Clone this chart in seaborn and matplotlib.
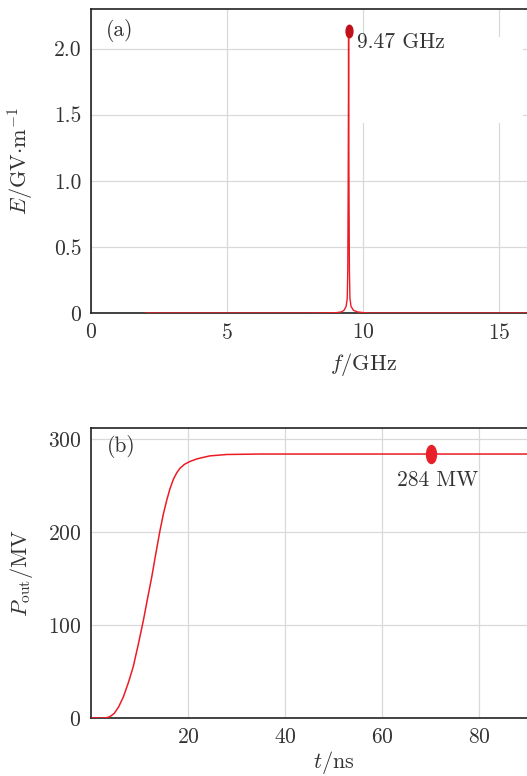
import numpy as np
import pandas as pd
import matplotlib
matplotlib.use("Agg")
import matplotlib.pyplot as plt
import seaborn as sns
from matplotlib.patches import Rectangle
from matplotlib.path import Path
from matplotlib.transforms import Affine2D

# ---- data ----
freq_ghz = [2.0, 4.0, 6.0, 8.0, 9.0, 9.2, 9.3, 9.38, 9.42, 9.44, 9.455, 9.465, 9.47,
            9.475, 9.485, 9.50, 9.52, 9.56, 9.65, 9.8, 10.0, 10.2, 12.0, 14.0, 16.0, 18.0, 20.0]
field_gv = [0.0, 0.0, 0.0, 0.0, 0.002, 0.008, 0.02, 0.05, 0.11, 0.32, 0.94, 1.60, 2.13,
            1.60, 0.94, 0.32, 0.11, 0.05, 0.02, 0.008, 0.003, 0.0, 0.0, 0.0, 0.0, 0.0, 0.0]

time_ns = [0.0, 3.0, 3.9, 4.8, 5.7, 6.7, 7.7, 8.7, 9.7, 10.8, 11.6, 12.5, 13.3, 14.2, 14.9,
           15.6, 16.3, 17.0, 17.7, 18.4, 19.3, 20.4, 22.0, 24.5, 28.0, 35.0, 50.0, 70.0, 100.0]
power_mw = [0.0, 0.0, 1.4, 5.0, 12.0, 23.0, 38.0, 55.0, 78.0, 105.0, 127.0, 151.0, 175.0, 201.0, 219.0,
            234.0, 247.0, 257.0, 264.0, 269.0, 273.0, 276.0, 279.0, 282.0, 283.5, 284.0, 284.0, 284.0, 284.0]

peak_f, peak_e = 9.47, 2.13
flat_t, flat_p = 70.2, 284.0

# ---- style ----
sns.set_theme(style="whitegrid")
plt.rcParams["font.family"] = ["cmr10", "DejaVu Serif"]
plt.rcParams["mathtext.fontset"] = "cm"
plt.rcParams["axes.unicode_minus"] = False
plt.rcParams["axes.formatter.use_mathtext"] = True

txt = "#333333"
red = "#ec1c24"
grid_c = "#d9d9d9"
fs = 15.5

fig = plt.figure(figsize=(5.27, 7.76), dpi=100)
W, H = 527, 776

def place(l, t, w, h):
    return fig.add_axes([l / W, 1 - (t + h) / H, w / W, h / H])

ax1 = place(91, 9, 20 * 27.2, 304)
ax2 = place(91, 428, 100 * 4.85, 290)

for ax in (ax1, ax2):
    ax.set_facecolor("white")
    ax.grid(True, color=grid_c, linewidth=0.9)
    ax.set_axisbelow(True)
    for s in ("left", "bottom", "top"):
        ax.spines[s].set_visible(True)
        ax.spines[s].set_color("#222222")
        ax.spines[s].set_linewidth(1.2)
    ax.spines["right"].set_visible(False)
    ax.tick_params(length=0, labelsize=fs, colors=txt, pad=7)

# ---- panel (a) ----
df1 = pd.DataFrame({"f": freq_ghz, "E": field_gv})
sns.lineplot(data=df1, x="f", y="E", ax=ax1, color=red, linewidth=1.0, zorder=3)
ax1.set_xlim(0, 20)
ax1.set_ylim(0, 2.30)
ax1.set_xticks([0, 5, 10, 15])
ax1.set_yticks([0, 0.5, 1.0, 1.5, 2.0])
ax1.set_yticklabels(["0", "0.5", "1.0", "1.5", "2.0"])
ax1.add_patch(Rectangle((9.52, 1.44), 6.35, 0.65, facecolor="white", edgecolor="none", zorder=1))
ellipse = Path.unit_circle().transformed(Affine2D().scale(0.55, 1.0))
ax1.plot([peak_f], [peak_e], marker=ellipse, markersize=9, color="#c0111a", zorder=4)
ax1.text(9.78, 2.05, "9.47 GHz", fontsize=fs, color=txt, va="center", ha="left", zorder=5)
ax1.text(0.55, 2.14, "(a)", fontsize=fs, color=txt, va="center", ha="left")
ax1.set_xlabel(r"$f/\mathrm{GHz}$", fontsize=fs + 0.5, color=txt, labelpad=6)
ax1.set_ylabel(r"$E/\mathrm{GV{\cdot}m^{-1}}$", fontsize=fs + 0.5, color=txt, labelpad=13)

# ---- panel (b) ----
df2 = pd.DataFrame({"t": time_ns, "P": power_mw})
sns.lineplot(data=df2, x="t", y="P", ax=ax2, color=red, linewidth=1.1, zorder=3)
ax2.set_xlim(0, 100)
ax2.set_ylim(0, 312)
ax2.set_xticks([20, 40, 60, 80])
ax2.set_yticks([0, 100, 200, 300])
ax2.plot([flat_t], [flat_p], marker=ellipse, markersize=13, color="#e8202a", zorder=4)
ax2.text(71.5, 256, "284 MW", fontsize=fs, color=txt, va="center", ha="center")
ax2.text(3.2, 292, "(b)", fontsize=fs, color=txt, va="center", ha="left")
ax2.set_xlabel(r"$t/\mathrm{ns}$", fontsize=fs + 0.5, color=txt, labelpad=1)
ax2.set_ylabel(r"$P_{\mathrm{out}}/\mathrm{MV}$", fontsize=fs + 0.5, color=txt, labelpad=9)

fig.savefig("out.png", dpi=100, facecolor="white")
